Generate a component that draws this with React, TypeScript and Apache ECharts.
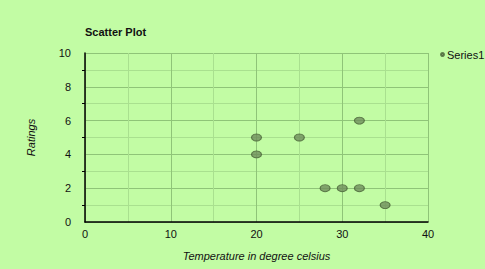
import React, { useEffect, useRef } from "react";
import * as echarts from "echarts";

const temperatures = [20, 20, 25, 32, 28, 30, 32, 35];
const ratings = [5, 4, 5, 6, 2, 2, 2, 1];
const seriesName = "Series1";

export default function App() {
  const ref = useRef<HTMLDivElement>(null);
  useEffect(() => {
    const chart = echarts.init(ref.current!, null, { renderer: "svg" });
    const font = "Liberation Sans, Arial, sans-serif";
    chart.setOption({
      animation: false,
      backgroundColor: "#c2fca4",
      title: {
        text: "Scatter Plot",
        left: 80,
        top: 21,
        textStyle: { fontSize: 11, fontWeight: "bold", color: "#111", fontFamily: font },
      },
      legend: {
        data: [seriesName],
        left: 440,
        top: 49,
        padding: 0,
        icon: "circle",
        itemWidth: 3,
        itemHeight: 3,
        itemGap: 2,
        textStyle: { fontSize: 11, color: "#111", fontFamily: font, padding: [0, 0, 0, -2] },
      },
      grid: { left: 85, right: 57, top: 53, bottom: 47, containLabel: false },
      xAxis: {
        type: "value",
        min: 0,
        max: 40,
        interval: 10,
        name: "Temperature in degree celsius",
        nameLocation: "middle",
        nameGap: 28,
        nameTextStyle: { fontSize: 11, fontStyle: "italic", color: "#111", fontFamily: font },
        axisLine: { show: true, lineStyle: { color: "#000", width: 1.5 } },
        axisTick: { show: false },
        axisLabel: { fontSize: 11, color: "#111", fontFamily: font, margin: 6 },
        splitLine: { show: true, lineStyle: { color: "#8fc478", width: 1 } },
        minorTick: { show: false, splitNumber: 2 },
        minorSplitLine: { show: true, lineStyle: { color: "#a9e08f", width: 1 } },
      },
      yAxis: {
        type: "value",
        min: 0,
        max: 10,
        interval: 2,
        name: "Ratings",
        nameLocation: "middle",
        nameGap: 49,
        nameRotate: 90,
        nameTextStyle: { fontSize: 11, fontStyle: "italic", color: "#111", fontFamily: font },
        axisLine: { show: true, lineStyle: { color: "#000", width: 1.5 } },
        axisTick: { show: false },
        axisLabel: { fontSize: 11, color: "#111", fontFamily: font, margin: 14 },
        splitLine: { show: true, lineStyle: { color: "#8fc478", width: 1 } },
        minorTick: { show: true, splitNumber: 2, length: 3, lineStyle: { color: "#000" } },
        minorSplitLine: { show: true, lineStyle: { color: "#a9e08f", width: 1 } },
      },
      series: [
        {
          name: seriesName,
          type: "scatter",
          symbol: "circle",
          symbolSize: [10, 7],
          data: temperatures.map((t, i) => [t, ratings[i]]),
          itemStyle: { color: "#6f8d5c", borderColor: "#4a6438", borderWidth: 1 },
        },
      ],
    });
    return () => chart.dispose();
  }, []);
  return <div ref={ref} style={{ width: 485, height: 269, position: "absolute", left: 0, top: 0 }} />;
}
